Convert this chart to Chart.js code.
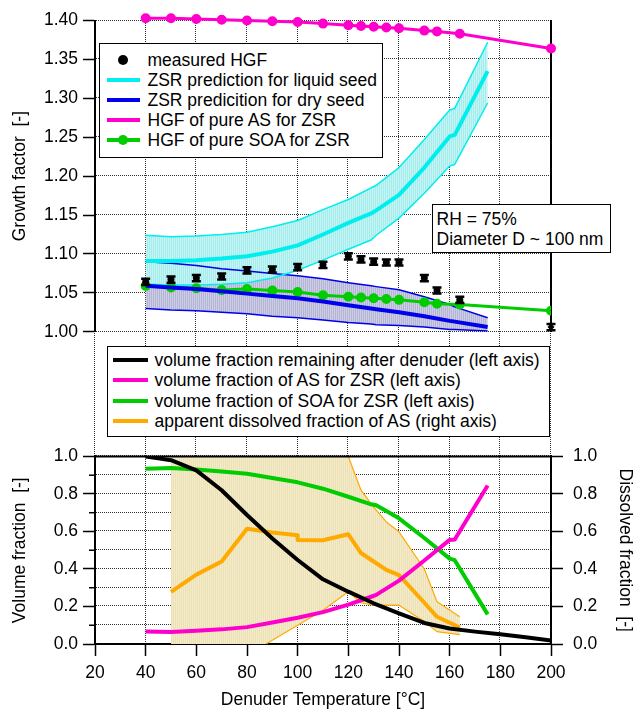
<!DOCTYPE html>
<html>
<head>
<meta charset="utf-8">
<script src="https://cdn.jsdelivr.net/npm/chart.js@4.4.1/dist/chart.umd.min.js"></script>
<style>
  body { margin: 0; background: #fff; }
  #wrap { position: relative; width: 638px; height: 713px; font-family: "Liberation Sans", Arial, sans-serif; }
  #gridLayer { position: absolute; left: 0; top: 0; width: 638px; height: 713px; }
  #chart { position: absolute; left: 0; top: 0; }
  .gv { position: absolute; width: 0; border-left: 1.5px dotted #333; }
  .gh { position: absolute; height: 0; border-top: 1.5px dotted #333; }
  .box { position: absolute; background: #fff; border: 1.5px solid #000; box-sizing: border-box;
         font-size: 17.5px; color: #000; white-space: nowrap; }
  .row { position: relative; }
  .sym { position: absolute; height: 4px; margin-top: -2px; }
  .dot { position: absolute; width: 10px; height: 10px; margin: -5px 0 0 -5px; border-radius: 50%; }
</style>
</head>
<body>
<div id="wrap">
  <div id="gridLayer"></div>
  <canvas id="chart" width="638" height="713"></canvas>
  <div class="box" id="legTop" style="left:99px;top:43px;width:284px;height:115px;padding-top:6px;"></div>
  <div class="box" id="legBot" style="left:107px;top:346px;width:443px;height:91px;padding-top:3px;"></div>
  <div class="box" style="left:432px;top:204px;width:179px;height:49px;padding:5px 0 0 3.5px;line-height:19.5px;">
    RH = 75%<br>Diameter D ~ 100 nm
  </div>
</div>
<script>
// measured growth factors
const tempMeas = [40, 50, 60, 70, 80, 90, 100, 110, 120, 125, 130, 135, 140, 150, 155, 164, 200];
const hgfMeas = [1.064, 1.067, 1.069, 1.071, 1.079, 1.080, 1.083, 1.086, 1.097, 1.093, 1.090, 1.089, 1.089, 1.069, 1.053, 1.041, 1.006];
const errMeas = [0.004, 0.004, 0.004, 0.004, 0.004, 0.004, 0.004, 0.004, 0.004, 0.004, 0.004, 0.004, 0.004, 0.004, 0.004, 0.004, 0.004];
const hgfAS = [1.403, 1.403, 1.402, 1.401, 1.400, 1.399, 1.398, 1.396, 1.394, 1.393, 1.392, 1.391, 1.390, 1.387, 1.386, 1.383, 1.364];
const hgfSOA = [1.059, 1.057, 1.056, 1.0535, 1.055, 1.053, 1.051, 1.047, 1.045, 1.044, 1.043, 1.042, 1.041, 1.038, 1.036, 1.035, 1.027];

// ZSR predictions
const tempZsr = [40, 50, 60, 70, 80, 90, 100, 110, 120, 129, 131, 140, 150, 160, 162, 175];
const liqMid = [1.091, 1.091, 1.092, 1.094, 1.097, 1.103, 1.111, 1.125, 1.140, 1.152, 1.156, 1.176, 1.211, 1.251, 1.253, 1.335];
const liqHi = [1.124, 1.122, 1.123, 1.125, 1.128, 1.135, 1.143, 1.157, 1.170, 1.185, 1.188, 1.211, 1.247, 1.285, 1.287, 1.372];
const liqLo = [1.061, 1.060, 1.060, 1.061, 1.063, 1.069, 1.079, 1.092, 1.106, 1.118, 1.124, 1.146, 1.178, 1.213, 1.215, 1.294];
const dryMid = [1.059, 1.057, 1.055, 1.052, 1.049, 1.046, 1.043, 1.039, 1.034, 1.030, 1.029, 1.025, 1.020, 1.014, 1.013, 1.006];
const dryHi = [1.090, 1.088, 1.085, 1.081, 1.078, 1.075, 1.072, 1.068, 1.063, 1.059, 1.058, 1.054, 1.045, 1.035, 1.032, 1.018];
const dryLo = [1.030, 1.028, 1.027, 1.025, 1.023, 1.020, 1.018, 1.015, 1.012, 1.010, 1.009, 1.008, 1.006, 1.003, 1.003, 1.001];

// volume fractions (same temperatures as ZSR)
const fracAS = [0.066, 0.064, 0.070, 0.078, 0.090, 0.115, 0.140, 0.170, 0.210, 0.252, 0.262, 0.338, 0.445, 0.555, 0.557, 0.845];
const fracSOA = [0.934, 0.938, 0.930, 0.920, 0.908, 0.885, 0.862, 0.828, 0.785, 0.745, 0.740, 0.670, 0.565, 0.455, 0.447, 0.158];

const tempVol = [40, 45, 50, 60, 70, 80, 90, 100, 110, 120, 130, 140, 150, 160, 170, 180, 190, 200];
const volRemain = [1.000, 0.990, 0.980, 0.926, 0.820, 0.688, 0.563, 0.448, 0.345, 0.279, 0.217, 0.163, 0.112, 0.083, 0.066, 0.052, 0.036, 0.019];

// apparent dissolved fraction of AS (right axis)
const tempDiss = [50, 60, 70, 80, 90, 100, 100, 110, 120, 125, 130, 135, 140, 150, 155, 164];
const dissMid = [0.278, 0.370, 0.440, 0.615, 0.595, 0.580, 0.555, 0.553, 0.585, 0.485, 0.440, 0.395, 0.367, 0.220, 0.145, 0.088];
const dissHi = [1.0, 1.0, 1.0, 1.0, 1.0, 1.0, 1.0, 1.0, 1.0, 0.82, 0.73, 0.651, 0.598, 0.40, 0.225, 0.145];
const dissLo = [-0.30, -0.22, -0.15, -0.06, 0.02, 0.10, 0.10, 0.18, 0.279, 0.22, 0.207, 0.207, 0.207, 0.12, 0.066, 0.05];

// axis ranges [min, max, step]
const xRange = [20, 200, 20];
const gfRange = [1.0, 1.4, 0.05];
const volRange = [0, 1, 0.1];
const dissRange = [0, 1, 0.2];

const FONT = '"Liberation Sans", Arial, sans-serif';
const CYAN = 'rgb(0,238,238)';
const BLUE = 'rgb(0,0,235)';
const MAGENTA = 'rgb(255,0,204)';
const GREEN = 'rgb(0,204,0)';
const ORANGE = 'rgb(255,170,0)';

Chart.defaults.font.family = FONT;
Chart.defaults.font.size = 17.5;
Chart.defaults.color = '#000';

const pts = (xs, ys) => xs.map((x, i) => ({ x, y: ys[i] }));

// vertical hatched fill like the original
function hatch(base, stripe) {
    const p = document.createElement('canvas');
    p.width = 2; p.height = 1;
    const g = p.getContext('2d');
    g.fillStyle = base; g.fillRect(0, 0, 2, 1);
    g.fillStyle = stripe; g.fillRect(1, 0, 1, 1);
    return g.createPattern(p, 'repeat');
}

const line = (extra) => Object.assign({ pointRadius: 0, tension: 0, borderJoinStyle: 'round', fill: false }, extra);

const datasets = [
    { label: 'measured HGF', legendBox: 'top', legendKind: 'dot', data: pts(tempMeas, hgfMeas), errors: errMeas,
      yAxisID: 'yTop', showLine: false, pointRadius: 3.5, borderWidth: 0,
      pointStyle: c => c.dataIndex === tempMeas.length - 1 ? 'rectRot' : 'circle',
      backgroundColor: '#000', borderColor: '#000', order: 0, clip: false },
    line({ label: 'ZSR prediction for liquid seed', legendBox: 'top', data: pts(tempZsr, liqMid), yAxisID: 'yTop',
      borderColor: CYAN, borderWidth: 4, order: 2 }),
    line({ data: pts(tempZsr, liqHi), yAxisID: 'yTop', borderColor: CYAN, borderWidth: 1.5, order: 5,
      fill: '+1', backgroundColor: hatch('rgb(196,244,244)', 'rgb(165,236,236)') }),
    line({ data: pts(tempZsr, liqLo), yAxisID: 'yTop', borderColor: CYAN, borderWidth: 1.5, order: 5 }),
    line({ label: 'ZSR predicition for dry seed', legendBox: 'top', data: pts(tempZsr, dryMid), yAxisID: 'yTop',
      borderColor: BLUE, borderWidth: 4, order: 3 }),
    line({ data: pts(tempZsr, dryHi), yAxisID: 'yTop', borderColor: BLUE, borderWidth: 1.5, order: 6,
      fill: '+1', backgroundColor: hatch('rgb(205,205,228)', 'rgb(180,180,214)') }),
    line({ data: pts(tempZsr, dryLo), yAxisID: 'yTop', borderColor: BLUE, borderWidth: 1.5, order: 6 }),
    line({ label: 'HGF of pure AS for ZSR', legendBox: 'top', data: pts(tempMeas, hgfAS), yAxisID: 'yTop',
      borderColor: MAGENTA, backgroundColor: MAGENTA, borderWidth: 3, pointRadius: 3.5, order: 1, clip: false }),
    line({ label: 'HGF of pure SOA for ZSR', legendBox: 'top', legendKind: 'linedot', data: pts(tempMeas, hgfSOA), yAxisID: 'yTop',
      borderColor: GREEN, backgroundColor: GREEN, borderWidth: 3, pointRadius: 3.5, order: 4 }),

    line({ label: 'volume fraction remaining after denuder (left axis)', legendBox: 'bottom', data: pts(tempVol, volRemain),
      yAxisID: 'yBot', borderColor: '#000', borderWidth: 4, order: 1 }),
    line({ label: 'volume fraction of AS for ZSR (left axis)', legendBox: 'bottom', data: pts(tempZsr, fracAS),
      yAxisID: 'yBot', borderColor: MAGENTA, borderWidth: 4, order: 1 }),
    line({ label: 'volume fraction of SOA for ZSR (left axis)', legendBox: 'bottom', data: pts(tempZsr, fracSOA),
      yAxisID: 'yBot', borderColor: GREEN, borderWidth: 4, order: 1 }),
    line({ label: 'apparent dissolved fraction of AS (right axis)', legendBox: 'bottom', data: pts(tempDiss, dissMid),
      yAxisID: 'yR', borderColor: ORANGE, borderWidth: 4, order: 2 }),
    line({ data: pts(tempDiss, dissHi), yAxisID: 'yR', borderColor: ORANGE, borderWidth: 1.2, order: 3, clip: 0,
      fill: '+1', backgroundColor: hatch('rgb(244,235,200)', 'rgb(236,224,182)') }),
    line({ data: pts(tempDiss, dissLo), yAxisID: 'yR', borderColor: ORANGE, borderWidth: 1.2, order: 3, clip: 0 })
];

// built-in grid only draws the tick marks, the dotted grid is laid out in HTML underneath
const tickGrid = { drawOnChartArea: false, tickColor: '#000', tickLength: 12, tickWidth: 1.5 };
const solid = { color: '#000', width: 2 };
const hidden = { display: false };

// error bars of the measured points
const errorBars = {
    id: 'errorBars',
    afterDatasetsDraw(chart) {
        const ctx = chart.ctx;
        chart.data.datasets.forEach((d, i) => {
            if (!d.errors) return;
            const ys = chart.scales[d.yAxisID];
            ctx.save();
            ctx.strokeStyle = '#000';
            ctx.lineWidth = 2.5;
            chart.getDatasetMeta(i).data.forEach((p, j) => {
                const t = ys.getPixelForValue(d.data[j].y + d.errors[j]);
                const b = ys.getPixelForValue(d.data[j].y - d.errors[j]);
                ctx.beginPath();
                ctx.moveTo(p.x, t); ctx.lineTo(p.x, b);
                ctx.moveTo(p.x - 4.5, t); ctx.lineTo(p.x + 4.5, t);
                ctx.moveTo(p.x - 4.5, b); ctx.lineTo(p.x + 4.5, b);
                ctx.stroke();
            });
            ctx.restore();
        });
    }
};

// top frame line of the lower panel and short minor ticks on its left axis
const panelFrame = {
    id: 'panelFrame',
    afterDatasetsDraw(chart) {
        const s = chart.scales.yBot, a = chart.chartArea, ctx = chart.ctx;
        const y = s.getPixelForValue(volRange[1]);
        ctx.save();
        ctx.strokeStyle = '#000';
        ctx.lineWidth = 2;
        ctx.beginPath(); ctx.moveTo(a.left, y); ctx.lineTo(a.right, y); ctx.stroke();
        ctx.lineWidth = 1.5;
        s.ticks.forEach(t => {
            if (Math.round(t.value * 10) % 2) {
                const ty = s.getPixelForValue(t.value);
                ctx.beginPath(); ctx.moveTo(s.right - 6, ty); ctx.lineTo(s.right, ty); ctx.stroke();
            }
        });
        ctx.restore();
    }
};

const chart = new Chart(document.getElementById('chart').getContext('2d'), {
    type: 'line',
    data: { datasets },
    options: {
        responsive: false,
        animation: false,
        devicePixelRatio: 1,
        layout: { padding: { top: 19, left: 0, right: 0, bottom: 0 } },
        plugins: {
            legend: { display: false },
            tooltip: { enabled: false },
            filler: { drawTime: 'beforeDatasetsDraw' }
        },
        scales: {
            x: {
                type: 'linear', position: 'bottom', min: xRange[0], max: xRange[1],
                ticks: { stepSize: xRange[2], padding: 7, maxRotation: 0, autoSkip: false },
                grid: tickGrid, border: solid,
                title: { display: true, text: 'Denuder Temperature [°C]', padding: { top: 0, bottom: 2.5 } },
                afterFit: s => { s.height = 69; }
            },
            yTop: {
                type: 'linear', position: 'left', stack: 'L', stackWeight: 312, weight: 3,
                min: gfRange[0], max: gfRange[1],
                ticks: { stepSize: gfRange[2], autoSkip: false, padding: 5, callback: v => v.toFixed(2) },
                grid: tickGrid, border: solid,
                title: { display: true, text: 'Growth factor  [-]', padding: { top: 9.5, bottom: 0 } },
                afterFit: s => { s.width = 95; }
            },
            yGap: {
                type: 'linear', position: 'left', stack: 'L', stackWeight: 125, weight: 2, min: 0, max: 1,
                ticks: hidden, grid: hidden, border: hidden,
                afterFit: s => { s.width = 95; }
            },
            yBot: {
                type: 'linear', position: 'left', stack: 'L', stackWeight: 188, weight: 1,
                min: volRange[0], max: volRange[1],
                ticks: { stepSize: volRange[2], autoSkip: false, padding: 5,
                         callback: v => (Math.round(v * 10) % 2 ? '' : v.toFixed(1)) },
                grid: Object.assign({}, tickGrid, {
                    tickColor: c => (Math.round(c.tick.value * 10) % 2 ? 'rgba(0,0,0,0)' : '#000') }),
                border: solid,
                title: { display: true, text: 'Volume fraction  [-]', padding: { top: 9.5, bottom: 0 } },
                afterFit: s => { s.width = 95; }
            },
            yTopR: {
                type: 'linear', position: 'right', stack: 'R', stackWeight: 312, weight: 1, min: 0, max: 1,
                ticks: hidden, grid: hidden, border: solid,
                afterFit: s => { s.width = 87; }
            },
            yGapR: {
                type: 'linear', position: 'right', stack: 'R', stackWeight: 125, weight: 2, min: 0, max: 1,
                ticks: hidden, grid: hidden, border: hidden,
                afterFit: s => { s.width = 87; }
            },
            yR: {
                type: 'linear', position: 'right', stack: 'R', stackWeight: 188, weight: 3,
                min: dissRange[0], max: dissRange[1],
                ticks: { stepSize: dissRange[2], autoSkip: false, padding: 10, callback: v => v.toFixed(1) },
                grid: tickGrid, border: solid,
                title: { display: true, text: 'Dissolved fraction  [-]', padding: { top: 2.5, bottom: 0 } },
                afterFit: s => { s.width = 87; }
            }
        }
    },
    plugins: [errorBars, panelFrame]
});

// dotted grid as HTML lines under the transparent chart canvas, placed with the chart's scales
function buildGrid() {
    const layer = document.getElementById('gridLayer');
    const a = chart.chartArea, xs = chart.scales.x;
    xs.ticks.forEach(t => {
        const d = document.createElement('div');
        d.className = 'gv';
        d.style.left = (Math.round(xs.getPixelForValue(t.value)) - 1) + 'px';
        d.style.top = a.top + 'px';
        d.style.height = (a.bottom - a.top) + 'px';
        layer.appendChild(d);
    });
    ['yTop', 'yBot'].forEach(id => {
        const s = chart.scales[id];
        s.ticks.forEach(t => {
            const d = document.createElement('div');
            d.className = 'gh';
            d.style.top = (Math.round(s.getPixelForValue(t.value)) - 1) + 'px';
            d.style.left = a.left + 'px';
            d.style.width = (a.right - a.left) + 'px';
            layer.appendChild(d);
        });
    });
}
buildGrid();

// HTML legends built from the datasets
function buildLegend(id, box, symLeft, symWidth, textLeft, rowH) {
    const el = document.getElementById(id);
    chart.data.datasets.filter(d => d.legendBox === box).forEach(d => {
        const row = document.createElement('div');
        row.className = 'row';
        row.style.height = rowH + 'px';
        row.style.lineHeight = rowH + 'px';
        const mid = rowH / 2;
        if (d.legendKind !== 'dot') {
            const s = document.createElement('span');
            s.className = 'sym';
            s.style.left = symLeft + 'px';
            s.style.width = symWidth + 'px';
            s.style.top = mid + 'px';
            s.style.background = d.borderColor;
            row.appendChild(s);
        }
        if (d.legendKind === 'dot' || d.legendKind === 'linedot') {
            const c = document.createElement('span');
            c.className = 'dot';
            c.style.left = (symLeft + symWidth / 2) + 'px';
            c.style.top = mid + 'px';
            c.style.background = d.backgroundColor;
            row.appendChild(c);
        }
        const t = document.createElement('span');
        t.style.position = 'absolute';
        t.style.left = textLeft + 'px';
        t.textContent = d.label;
        row.appendChild(t);
        el.appendChild(row);
    });
}
buildLegend('legTop', 'top', 6.5, 33, 47.5, 20);
buildLegend('legBot', 'bottom', 4.5, 35, 46.5, 20.3);
</script>
</body>
</html>
